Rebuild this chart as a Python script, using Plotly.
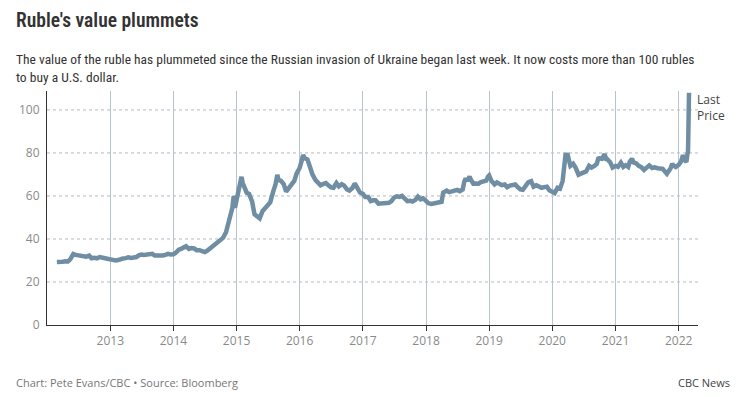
import plotly.graph_objects as go

dates = [
"2012-02-27","2012-03-15","2012-04-01","2012-04-15","2012-05-01","2012-05-15","2012-06-01","2012-06-15","2012-07-01","2012-07-15","2012-08-01","2012-08-15","2012-09-01","2012-09-15","2012-10-01","2012-10-15","2012-11-01","2012-11-15","2012-12-01","2012-12-15",
"2013-01-01","2013-01-15","2013-02-01","2013-02-15","2013-03-01","2013-03-15","2013-04-01","2013-04-15","2013-05-01","2013-05-15","2013-06-01","2013-06-15","2013-07-01","2013-07-15","2013-08-01","2013-08-15","2013-09-01","2013-09-15","2013-10-01","2013-10-15","2013-11-01","2013-11-15","2013-12-01","2013-12-15",
"2014-01-01","2014-01-15","2014-02-01","2014-02-15","2014-03-01","2014-03-15","2014-04-01","2014-04-15","2014-05-01","2014-05-15","2014-06-01","2014-06-15","2014-07-01","2014-07-15","2014-08-01","2014-08-15","2014-09-01","2014-09-15","2014-10-01","2014-10-15","2014-11-01","2014-11-15","2014-12-01","2014-12-08","2014-12-16","2014-12-23",
"2015-01-01","2015-01-15","2015-01-30","2015-02-06","2015-02-15","2015-03-01","2015-03-15","2015-04-01","2015-04-15","2015-05-01","2015-05-15","2015-06-01","2015-06-15","2015-07-01","2015-07-15","2015-08-01","2015-08-15","2015-08-25","2015-09-01","2015-09-15","2015-10-01","2015-10-15","2015-11-01","2015-11-15","2015-12-01","2015-12-15",
"2016-01-01","2016-01-15","2016-01-21","2016-02-01","2016-02-15","2016-03-01","2016-03-15","2016-04-01","2016-04-15","2016-05-01","2016-05-15","2016-06-01","2016-06-15","2016-07-01","2016-07-15","2016-08-01","2016-08-15","2016-09-01","2016-09-15","2016-10-01","2016-10-15","2016-11-01","2016-11-15","2016-12-01","2016-12-15",
"2017-01-01","2017-01-15","2017-02-01","2017-02-15","2017-03-01","2017-03-15","2017-04-01","2017-04-15","2017-05-01","2017-05-15","2017-06-01","2017-06-15","2017-07-01","2017-07-15","2017-08-01","2017-08-15","2017-09-01","2017-09-15","2017-10-01","2017-10-15","2017-11-01","2017-11-15","2017-12-01","2017-12-15",
"2018-01-01","2018-01-15","2018-02-01","2018-02-15","2018-03-01","2018-03-15","2018-04-01","2018-04-10","2018-04-15","2018-05-01","2018-05-15","2018-06-01","2018-06-15","2018-07-01","2018-07-15","2018-08-01","2018-08-10","2018-08-15","2018-09-01","2018-09-10","2018-09-15","2018-10-01","2018-10-15","2018-11-01","2018-11-15","2018-12-01","2018-12-15","2018-12-26",
"2019-01-01","2019-01-15","2019-02-01","2019-02-15","2019-03-01","2019-03-15","2019-04-01","2019-04-15","2019-05-01","2019-05-15","2019-06-01","2019-06-15","2019-07-01","2019-07-15","2019-08-01","2019-08-15","2019-09-01","2019-09-15","2019-10-01","2019-10-15","2019-11-01","2019-11-15","2019-12-01","2019-12-15",
"2020-01-01","2020-01-15","2020-02-01","2020-02-15","2020-03-01","2020-03-10","2020-03-19","2020-03-25","2020-04-01","2020-04-15","2020-05-01","2020-05-15","2020-06-01","2020-06-15","2020-07-01","2020-07-15","2020-08-01","2020-08-15","2020-09-01","2020-09-15","2020-09-25","2020-10-01","2020-10-15","2020-10-30","2020-11-10","2020-11-15","2020-12-01","2020-12-15",
"2021-01-01","2021-01-15","2021-02-01","2021-02-15","2021-03-01","2021-03-15","2021-03-25","2021-04-06","2021-04-15","2021-05-01","2021-05-15","2021-06-01","2021-06-15","2021-07-01","2021-07-15","2021-08-01","2021-08-15","2021-09-01","2021-09-15","2021-10-01","2021-10-15","2021-10-25","2021-11-01","2021-11-15","2021-11-25","2021-12-01","2021-12-15",
"2022-01-01","2022-01-15","2022-01-26","2022-02-01","2022-02-15","2022-02-21","2022-02-24","2022-02-25","2022-03-01","2022-03-02"]

rub_per_usd = [
29.3,29.2,29.4,29.6,29.5,30.6,33.0,32.6,32.4,32.5,32.0,31.8,32.3,31.0,31.2,31.0,31.6,31.5,31.0,30.8,
30.5,30.2,30.0,30.2,30.7,30.9,31.1,31.5,31.2,31.4,31.6,32.4,32.8,32.6,32.9,33.0,33.1,32.3,32.2,31.9,32.3,32.6,33.1,32.8,
32.9,33.6,35.0,35.4,36.2,36.6,35.4,35.8,35.6,34.8,34.8,34.4,33.9,34.5,35.6,36.0,37.0,38.0,39.6,40.5,43.0,46.7,52.0,54.5,60.0,54.5,
58.0,64.5,68.9,66.0,64.5,61.5,61.0,57.5,51.5,50.5,49.6,53.0,54.5,55.5,57.0,62.0,65.5,69.8,67.5,67.0,65.5,62.0,64.0,65.5,67.0,70.5,
73.0,77.0,79.0,77.5,77.0,73.5,70.0,67.5,66.5,65.0,65.5,66.0,65.0,64.0,63.8,66.0,64.5,65.5,64.8,63.0,62.5,63.7,65.8,64.0,61.6,
61.0,59.5,59.5,57.6,58.0,58.0,56.4,56.5,57.0,56.7,56.8,57.6,59.3,59.8,59.6,60.0,58.5,57.6,57.8,57.4,58.2,59.7,58.4,58.9,
57.7,56.6,56.3,56.5,56.7,57.3,57.3,61.5,61.8,62.5,61.8,62.0,62.5,62.8,62.2,63.0,66.5,67.5,67.5,69.0,68.0,65.7,65.8,65.7,66.5,66.6,67.1,69.0,
69.5,66.9,65.4,66.3,65.9,65.0,65.3,64.1,64.8,65.2,65.3,64.1,63.1,62.9,64.5,66.3,66.9,64.3,65.0,64.2,63.8,64.1,64.3,62.7,
62.0,61.4,63.8,63.4,66.9,73.0,80.0,78.0,78.5,74.0,75.0,73.2,69.9,70.4,71.2,71.4,74.0,73.2,74.0,75.0,78.0,77.5,77.3,79.5,76.5,77.0,75.7,73.2,
74.0,73.6,75.5,73.5,74.3,73.5,76.0,77.3,75.6,75.1,74.0,73.3,72.1,73.1,74.2,73.0,73.3,72.9,72.6,72.6,71.2,70.3,71.2,72.8,75.0,74.2,73.5,
74.5,76.0,79.0,77.0,75.8,79.5,80.5,83.5,98.0,108.0]

year_ticks = ["2013-01-01","2014-01-01","2015-01-01","2016-01-01","2017-01-01","2018-01-01","2019-01-01","2020-01-01","2021-01-01","2022-01-01"]
year_labels = ["2013","2014","2015","2016","2017","2018","2019","2020","2021","2022"]
y_ticks = [0, 20, 40, 60, 80, 100]

FONT = "Open Sans"
NARROW = "Roboto Condensed, Open Sans"
fig = go.Figure()
fig.add_trace(go.Scatter(x=dates, y=rub_per_usd, mode="lines",
                         line=dict(color="#6f8ea3", width=4.5), hoverinfo="x+y",
                         cliponaxis=False))

for v in y_ticks[1:]:
    fig.add_shape(type="line", xref="paper", yref="y", x0=0, x1=1, y0=v, y1=v,
                  line=dict(color="#b5b9bd", width=1, dash="dot"), layer="below")

fig.update_layout(
    width=746, height=397,
    margin=dict(l=47, r=48, t=91, b=72),
    paper_bgcolor="white", plot_bgcolor="white",
    showlegend=False,
    font=dict(family=FONT, color="#888"),
    xaxis=dict(range=["2012-01-01", "2022-04-23"], tickvals=year_ticks, ticktext=year_labels,
               showgrid=True, gridcolor="#b8c3ca", gridwidth=1,
               ticks="outside", ticklen=5, tickcolor="#333", tickwidth=1,
               showline=True, linecolor="#333", linewidth=1,
               tickfont=dict(size=12, color="#8a8a8a", family=FONT), zeroline=False),
    yaxis=dict(range=[0, 108.8], tickvals=y_ticks, showgrid=False,
               ticks="", showline=True, linecolor="#333", linewidth=1,
               tickfont=dict(size=12, color="#8a8a8a", family=FONT), zeroline=False,
               ticklabelstandoff=4),
)

fig.add_annotation(x=dates[-1], y=108.8, xref="x", yref="y", xanchor="left", yanchor="top",
                   xshift=6, yshift=2, text="Last<br>Price", showarrow=False, align="left",
                   font=dict(size=12, color="#444", family=FONT))

fig.add_annotation(x=-0.051, y=1.303, xref="paper", yref="paper", xanchor="left", yanchor="middle",
                   text="Ruble's value plummets", showarrow=False,
                   font=dict(size=19.5, color="#333", family=NARROW, weight=600))
fig.add_annotation(x=-0.051, y=1.1, xref="paper", yref="paper", xanchor="left", yanchor="middle",
                   text="The value of the ruble has plummeted since the Russian invasion of Ukraine began last week. It now costs more than 100 rubles<br>to buy a U.S. dollar.",
                   showarrow=False, align="left",
                   font=dict(size=13.5, color="#333", family=NARROW))
fig.add_annotation(x=-0.051, y=-0.244, xref="paper", yref="paper", xanchor="left", yanchor="middle",
                   text="Chart: Pete Evans/CBC \u2022 Source: Bloomberg", showarrow=False,
                   font=dict(size=11, color="#777", family=FONT))
fig.add_annotation(x=1.052, y=-0.244, xref="paper", yref="paper", xanchor="right", yanchor="middle",
                   text="CBC News", showarrow=False,
                   font=dict(size=11, color="#444", family=FONT))

fig.write_html("out.html", config={"displayModeBar": False},
               post_script="document.body.style.margin='0';document.body.style.padding='0';")
